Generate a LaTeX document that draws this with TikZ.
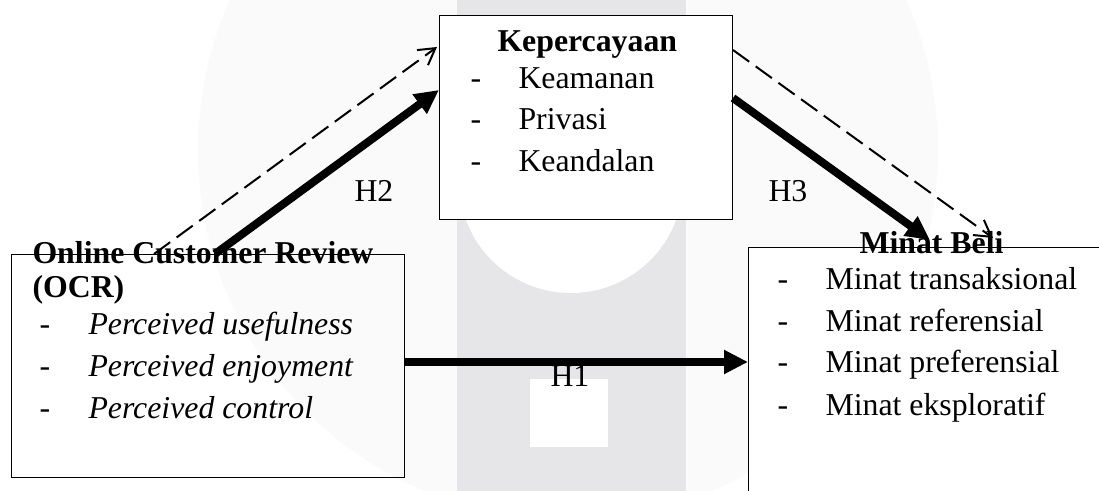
\documentclass[tikz,border=0pt]{standalone}
\usepackage{fontspec}
\setmainfont{Liberation Serif}
\usetikzlibrary{arrows.meta,calc}

\definecolor{wmfaint}{RGB}{250,250,250}
\definecolor{wmgrey}{RGB}{230,230,232}
\newcommand{\diagfont}{\fontsize{23.85pt}{28pt}\selectfont}

\tikzset{every picture/.style={line width=0.75pt}}
\tikzset{
	box/.style={draw, rectangle, anchor=north west, inner sep=0pt},
	bold arrow/.style={line width=6pt, -{Triangle[length=18pt,width=17pt]}},
	dash arrow/.style={line width=1.5pt, dash pattern={on 15pt off 6pt}, -{Straight Barb[length=12pt,width=14pt]}},
	txt/.style={anchor=base west, inner sep=0pt, font=\diagfont},
	head/.style={txt, font=\diagfont\bfseries},
	item/.style={txt, font=\diagfont\itshape}}

\begin{document}
\begin{tikzpicture}[x=0.75pt,y=0.75pt,yscale=-1,xscale=1]
	\useasboundingbox (0,0) rectangle (1099,491);
	\clip (0,0) rectangle (1099,491);

	%Shape: watermark
	\fill[wmfaint] (568,150) circle (370);
	\fill[wmgrey] (457,0) rectangle (686,491);
	\fill[white] (571,181) circle (112);
	\fill[white] (530,379) rectangle (608,447);

	%Shape: Rectangle
	\node[box, minimum width=294.75pt, minimum height=167.25pt] (ocr) at (11,254) {};
	%Shape: Rectangle
	\node[box, fill=white, minimum width=219.75pt, minimum height=153pt] (kep) at (439,15) {};
	%Shape: Rectangle
	\node[box, fill=white, minimum width=275.25pt, minimum height=197.25pt] (minat) at (748,247) {};

	%Straight Lines
	\draw[bold arrow] ($(ocr.north east)+(0,108)$) -- ($(minat.north west)+(0,115)$);
	%Straight Lines
	\draw[dash arrow] ($(ocr.north west)+(143,0)$) -- ($(kep.north west)+(-2,32)$);
	%Straight Lines
	\draw[bold arrow] ($(ocr.north west)+(204,0)$) -- ($(kep.north west)+(0,75)$);
	%Straight Lines
	\draw[dash arrow] ($(kep.north east)+(0,35)$) -- ($(minat.north west)+(245,-9)$);
	%Straight Lines
	\draw[bold arrow] ($(kep.north east)+(0,83)$) -- ($(minat.north west)+(182,-7)$);

	% Text Node
	\node[head] (kepT) at (497,52) {Kepercayaan};
	\node[txt] (kepD1) at (470,89) {-};
	\node[txt] (kepI1) at (518,89) {Keamanan};
	\node[txt] (kepD2) at (470,130) {-};
	\node[txt] (kepI2) at (518,130) {Privasi};
	\node[txt] (kepD3) at (470,172) {-};
	\node[txt] (kepI3) at (518,172) {Keandalan};
	% Text Node
	\node[head] (ocrT1) at (32,264) {Online Customer Review};
	\node[head] (ocrT2) at (32,298) {(OCR)};
	\node[txt] (ocrD1) at (39,335) {-};
	\node[item] (ocrI1) at (88,335) {Perceived usefulness};
	\node[txt] (ocrD2) at (39,377) {-};
	\node[item] (ocrI2) at (88,377) {Perceived enjoyment};
	\node[txt] (ocrD3) at (39,418) {-};
	\node[item] (ocrI3) at (88,418) {Perceived control};
	% Text Node
	\node[head] (minatT) at (859,254) {Minat Beli};
	\node[txt] (minatD1) at (777,290) {-};
	\node[txt] (minatI1) at (825,290) {Minat transaksional};
	\node[txt] (minatD2) at (777,332) {-};
	\node[txt] (minatI2) at (825,332) {Minat referensial};
	\node[txt] (minatD3) at (777,373) {-};
	\node[txt] (minatI3) at (825,373) {Minat preferensial};
	\node[txt] (minatD4) at (777,415) {-};
	\node[txt] (minatI4) at (825,415) {Minat eksploratif};
	% Text Node
	\node[txt] (h1) at (550,387) {H1};
	\node[txt] (h2) at (354,202) {H2};
	\node[txt] (h3) at (768,202) {H3};
\end{tikzpicture}
\end{document}
